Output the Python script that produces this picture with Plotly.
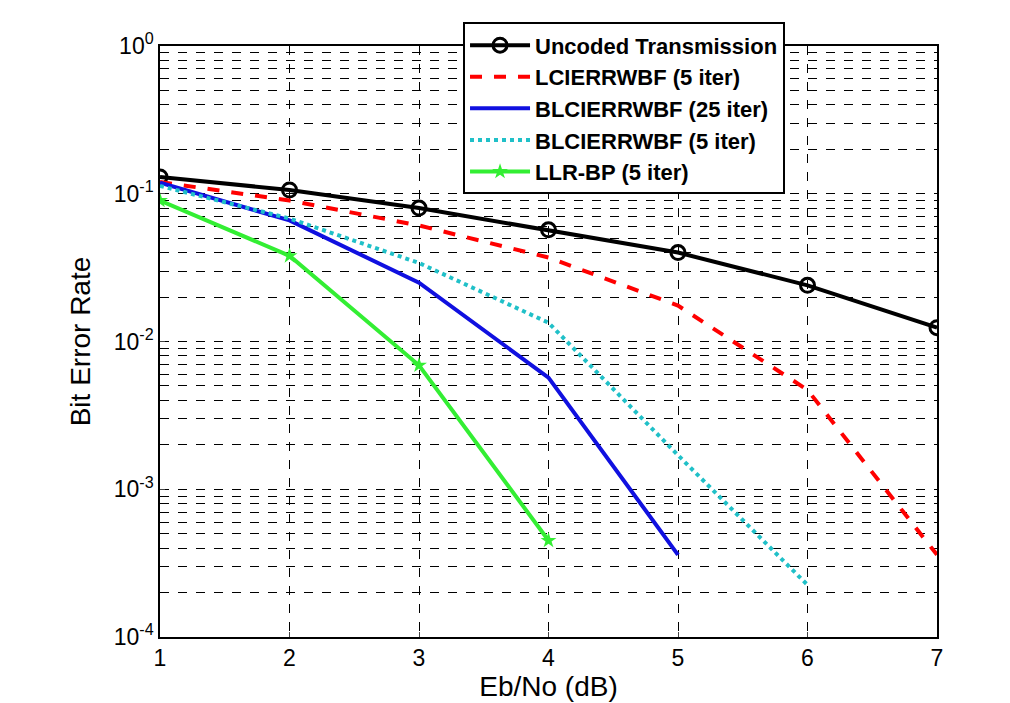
import plotly.graph_objects as go

ebno = [1, 2, 3, 4, 5, 6, 7]
uncoded = [0.13, 0.106, 0.080, 0.057, 0.040, 0.024, 0.0124]
lcierrwbf_5 = [0.12, 0.09, 0.061, 0.037, 0.0175, 0.0047, 0.00036]
blcierrwbf_25 = [0.119, 0.066, 0.025, 0.0057, 0.00036]
blcierrwbf_5 = [0.113, 0.068, 0.034, 0.0134, 0.0017, 0.000225]
llr_bp_5 = [0.09, 0.038, 0.0069, 0.00045]

fig = go.Figure()
fig.add_trace(go.Scatter(x=ebno, y=uncoded, name="Uncoded Transmission", mode="lines+markers",
                         line=dict(color="black", width=4),
                         marker=dict(symbol="circle-open", size=14, color="black", line=dict(width=3))))
fig.add_trace(go.Scatter(x=ebno, y=lcierrwbf_5, name="LCIERRWBF (5 iter)", mode="lines",
                         line=dict(color="red", width=4, dash="dash")))
fig.add_trace(go.Scatter(x=ebno[:5], y=blcierrwbf_25, name="BLCIERRWBF (25 iter)", mode="lines",
                         line=dict(color="#1010e0", width=4)))
fig.add_trace(go.Scatter(x=ebno[:6], y=blcierrwbf_5, name="BLCIERRWBF (5 iter)", mode="lines",
                         line=dict(color="#20c0c8", width=4, dash="dot")))
fig.add_trace(go.Scatter(x=ebno[:4], y=llr_bp_5, name="LLR-BP (5 iter)", mode="lines+markers",
                         line=dict(color="#33ee33", width=4),
                         marker=dict(symbol="star", size=12, color="#33ee33")))

grid = dict(showgrid=True, gridcolor="black", griddash="dash", gridwidth=1)
fig.update_layout(
    width=1010, height=703, paper_bgcolor="white", plot_bgcolor="white",
    margin=dict(l=152, r=81, t=38, b=74),
    font=dict(family="Liberation Sans, Arial", size=23, color="black"),
    xaxis=dict(range=[1, 7], dtick=1, title=dict(text="Eb/No (dB)", standoff=2),
               showline=True, mirror=True, linecolor="black", linewidth=1.5, ticks="inside", **grid),
    yaxis=dict(type="log", range=[-4, 0], title=dict(text="Bit Error Rate"),
               tickvals=[1e-4, 1e-3, 1e-2, 1e-1, 1],
               ticktext=["10<sup>-4</sup>", "10<sup>-3</sup>", "10<sup>-2</sup>", "10<sup>-1</sup>", "10<sup>0</sup>"],
               showline=True, mirror=True, linecolor="black", linewidth=1.5, ticks="inside",
               minor=dict(showgrid=True, gridcolor="black", griddash="dash", gridwidth=0.7,
                          tickvals=[m * 10 ** e for e in range(-4, 0) for m in range(2, 10)]),
               **grid),
    legend=dict(x=0.39, xanchor="left", y=1.04, yanchor="top",
                bgcolor="white", bordercolor="black", borderwidth=2, itemwidth=60,
                font=dict(size=22, family="Liberation Sans, Arial", weight="bold")),
)
fig.write_html("out.html")
